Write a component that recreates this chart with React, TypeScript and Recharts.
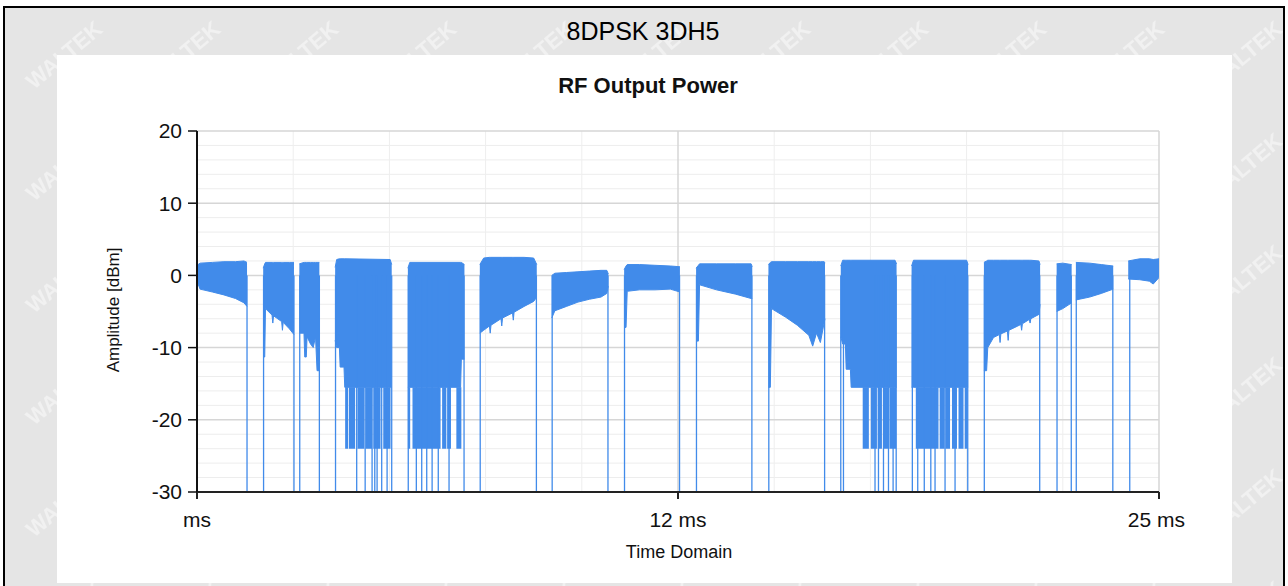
import React from "react"
import { ComposedChart, Area, Line, XAxis, YAxis, CartesianGrid, ReferenceLine } from "recharts"

const font = "'Liberation Sans', Arial, sans-serif"
const blue = "#418bea"

// burst envelopes: time in ms, amplitude in dBm
const burstTime = [
  [0, 0.08, 0.4, 0.7, 1.0, 1.22, 1.3],
  [1.72, 1.76, 1.78, 1.95, 1.97, 1.99, 2.2, 2.22, 2.24, 2.4, 2.52],
  [2.66, 2.78, 2.8, 2.84, 2.86, 2.95, 3.02, 3.08, 3.12, 3.18],
  [3.59, 3.63, 3.7, 3.72, 3.82, 3.84, 5.02, 5.06],
  [5.48, 5.53, 6.85, 6.87, 6.95],
  [7.35, 7.45, 7.6, 7.62, 7.64, 7.9, 7.92, 7.94, 8.2, 8.22, 8.24, 8.5, 8.75, 8.83],
  [9.22, 9.3, 9.6, 9.9, 10.2, 10.5, 10.65, 10.69],
  [11.1, 11.15, 11.18, 11.5, 11.9, 12.3, 12.55],
  [12.97, 13.03, 13.06, 13.5, 14.0, 14.4, 14.43],
  [14.85, 14.9, 14.93, 15.3, 15.6, 15.9, 16.0, 16.1, 16.2, 16.3, 16.32],
  [16.73, 16.78, 16.85, 16.87, 16.98, 17.0, 18.14, 18.18],
  [18.57, 18.62, 20.0, 20.04],
  [20.45, 20.52, 20.55, 20.7, 20.85, 20.87, 20.89, 21.06, 21.08, 21.1, 21.41, 21.43, 21.45, 21.63, 21.65, 21.67, 21.88, 21.91],
  [22.34, 22.5, 22.73],
  [22.84, 23.2, 23.5, 23.81],
  [24.2, 24.5, 24.75, 24.85, 25],
]
const burstLow = [
  [-0.8, -1.9, -2.3, -2.7, -3.2, -3.8, -4.3],
  [-11.3, -11.3, -4.6, -5.5, -6.6, -5.6, -6.4, -7.6, -6.5, -7.4, -8.2],
  [-8.0, -8.0, -11.3, -11.3, -8.5, -9.5, -10.0, -8.5, -13.2, -13.2],
  [-9.0, -10.0, -10.0, -12.7, -12.7, -15.5, -15.5, -15.5],
  [-15.5, -15.5, -15.5, -11.6, -11.6],
  [-8.0, -7.6, -7.0, -8.0, -6.9, -6.0, -7.0, -5.9, -5.2, -6.2, -5.1, -4.3, -3.6, -3.0],
  [-5.9, -4.9, -4.3, -3.7, -3.3, -3.0, -2.5, -1.5],
  [-7.2, -7.2, -2.2, -2.0, -2.0, -1.9, -2.3],
  [-9.1, -9.1, -1.3, -2.0, -2.6, -3.2, -3.2],
  [-15.5, -15.5, -4.6, -5.8, -6.9, -8.3, -9.8, -8.0, -9.3, -6.5, -6.0],
  [-8.5, -9.5, -9.5, -13.0, -13.0, -15.5, -15.5, -15.5],
  [-15.5, -15.5, -15.5, -15.5],
  [-13.2, -13.2, -10.0, -8.6, -8.2, -9.3, -8.1, -7.7, -9.0, -7.6, -6.8, -7.6, -6.7, -6.1, -6.6, -6.0, -5.4, -4.0],
  [-5.0, -4.6, -3.8],
  [-3.4, -3.0, -2.5, -1.9],
  [-0.5, -0.6, -0.8, -1.2, -0.3],
]
const burstHigh = [
  [1.4, 1.7, 1.8, 1.9, 1.9, 2.0, 1.8],
  [1.0, 1.6, 1.8, 1.8, 1.8, 1.8, 1.8, 1.8, 1.8, 1.8, 1.8],
  [1.6, 1.8, 1.8, 1.8, 1.8, 1.8, 1.8, 1.8, 1.8, 1.8],
  [1.1, 2.2, 2.3, 2.3, 2.3, 2.3, 2.2, 1.5],
  [1.0, 1.8, 1.8, 1.8, 1.5],
  [1.5, 2.4, 2.5, 2.5, 2.5, 2.5, 2.5, 2.5, 2.5, 2.5, 2.5, 2.5, 2.4, 1.5],
  [0.0, 0.3, 0.4, 0.5, 0.6, 0.7, 0.7, 0.2],
  [0.8, 1.3, 1.5, 1.5, 1.4, 1.3, 1.2],
  [1.0, 1.4, 1.6, 1.6, 1.6, 1.6, 1.2],
  [1.5, 1.8, 1.9, 1.9, 1.9, 1.9, 1.9, 1.9, 1.9, 1.9, 1.7],
  [1.3, 2.1, 2.1, 2.1, 2.1, 2.1, 2.1, 1.6],
  [1.3, 2.1, 2.1, 1.5],
  [1.8, 2.0, 2.1, 2.1, 2.1, 2.1, 2.1, 2.1, 2.1, 2.1, 2.1, 2.1, 2.1, 2.1, 2.1, 2.1, 2.0, 1.5],
  [1.6, 1.7, 1.5],
  [1.8, 1.7, 1.5, 1.3],
  [2.0, 2.3, 2.3, 2.2, 2.3],
]

// deep fill between -24 and -15.5 inside the noisy bursts
const deepStart = [3.85, 3.95, 4.17, 4.38, 4.58, 4.84, 5.48, 5.6, 6.37, 6.5, 6.74, 17.3, 17.51, 17.69, 17.84, 18.0, 18.68, 19.3, 19.45, 19.62, 19.79, 19.95]
const deepEnd = [3.93, 4.11, 4.35, 4.55, 4.77, 5.03, 5.54, 6.33, 6.48, 6.6, 6.87, 17.46, 17.67, 17.8, 17.99, 18.17, 19.27, 19.43, 19.57, 19.75, 19.92, 20.03]
const deepFloor = -24
const deepCeil = -15.5

// thin drops to the bottom of the scale
const spikeTime = [
  1.3, 1.73, 2.52, 2.67, 3.18, 3.6, 4.15, 4.37, 4.55, 4.62, 4.68, 4.8, 4.94, 5.06,
  5.49, 5.7, 5.84, 5.97, 6.11, 6.27, 6.55, 6.94, 7.36, 8.82, 9.23, 10.68, 11.11, 12.54,
  12.98, 14.42, 14.86, 16.31, 16.73, 16.8, 17.62, 17.71, 17.84, 17.97, 18.09, 18.17,
  18.59, 18.73, 18.9, 19.07, 19.18, 19.44, 19.7, 20.03, 20.46, 21.9, 22.35, 22.72,
  22.85, 23.8, 24.24,
]
const spikeTop = 0
const spikeBottom = -30

const yTicks = [-30, -20, -10, 0, 10, 20]
const yMinor = [-28, -26, -24, -22, -18, -16, -14, -12, -8, -6, -4, -2, 2, 4, 6, 8, 12, 14, 16, 18]
const xTicks = [0, 12.5, 25]
const xTickLabels = ["ms", "12 ms", "25 ms"]
const xMinor = [2.5, 5, 7.5, 10, 15, 17.5, 20, 22.5]

const bandRows = burstTime.flatMap((times, b) => [
  ...times.map((t, i) => ({ t, band: [burstLow[b][i], burstHigh[b][i]] })),
  { t: times[times.length - 1], band: null },
])

const deepRows = deepStart.flatMap((s, i) => [
  { t: s, deep: [deepFloor, deepCeil] },
  { t: deepEnd[i], deep: [deepFloor, deepCeil] },
  { t: deepEnd[i], deep: null },
])

const spikeRows = spikeTime.flatMap((t) => [
  { t, s: spikeTop },
  { t, s: spikeBottom },
  { t, s: null },
])

const chartMargin = { top: 131, right: 129, bottom: 34, left: 117 }

const XTick = (props: any) => {
  const { x, y, payload } = props
  const i = xTicks.indexOf(payload.value)
  const last = i === xTicks.length - 1
  return (
    <text
      x={last ? x + 26 : x}
      y={y}
      dy={26}
      textAnchor={last ? "end" : "middle"}
      fontSize={21}
      fontFamily={font}
      fill="#111"
    >
      {xTickLabels[i]}
    </text>
  )
}

// grid only, drawn in its own chart underneath the trace
function GridLayer() {
  return (
    <ComposedChart width={1288} height={586} margin={chartMargin} data={bandRows}>
      <XAxis dataKey="t" type="number" domain={[0, 25]} ticks={xTicks} allowDataOverflow height={60} tick={false} axisLine={false} tickLine={false} />
      <YAxis type="number" domain={[-30, 20]} ticks={yTicks} allowDataOverflow width={80} tick={false} axisLine={false} tickLine={false} />
      {yMinor.map((v) => (
        <ReferenceLine key={"y" + v} y={v} stroke="#ededed" strokeWidth={1} />
      ))}
      {xMinor.map((v) => (
        <ReferenceLine key={"x" + v} x={v} stroke="#eeeeee" strokeWidth={1} />
      ))}
      {yTicks.map((v) => (
        <ReferenceLine key={"Y" + v} y={v} stroke="#d6d6d6" strokeWidth={1.5} />
      ))}
      {xTicks.map((v) => (
        <ReferenceLine key={"X" + v} x={v} stroke="#d6d6d6" strokeWidth={1.5} />
      ))}
    </ComposedChart>
  )
}

export default function App() {
  return (
    <div style={{ position: "absolute", left: 0, top: 0, width: 1288, height: 586, background: "#fff", overflow: "hidden" }}>
      <svg width={1288} height={586} style={{ position: "absolute", left: 0, top: 0 }}>
        <defs>
          <pattern id="wm" width={118} height={112} patternUnits="userSpaceOnUse">
            <text
              x={18}
              y={66}
              transform="rotate(-40 59 56)"
              fontSize={22}
              fontWeight="bold"
              fontFamily={font}
              fill="#f1f1f1"
            >
              WALTEK
            </text>
          </pattern>
        </defs>
        <rect x={3} y={6} width={1282} height={580} fill="#e5e5e5" />
        <rect x={3} y={6} width={1282} height={580} fill="url(#wm)" />
        <rect x={57} y={55} width={1175} height={528} fill="#fff" />
        <rect x={3} y={6} width={1282} height={2} fill="#000" />
        <rect x={3} y={6} width={2} height={580} fill="#000" />
        <rect x={1283} y={6} width={2} height={580} fill="#000" />
      </svg>

      <div style={{ position: "absolute", left: 0, top: 0 }}>
        <GridLayer />
      </div>

      <div style={{ position: "absolute", left: 0, top: 0 }}>
        <ComposedChart width={1288} height={586} margin={chartMargin}>
          <XAxis
            dataKey="t"
            type="number"
            domain={[0, 25]}
            ticks={xTicks}
            allowDataOverflow
            height={60}
            tickSize={7}
            tick={<XTick />}
            axisLine={{ stroke: "#222", strokeWidth: 2 }}
            tickLine={{ stroke: "#222", strokeWidth: 2 }}
          />
          <YAxis
            type="number"
            domain={[-30, 20]}
            ticks={yTicks}
            allowDataOverflow
            width={80}
            tickSize={9}
            tickMargin={6}
            tick={{ fontSize: 21, fill: "#111", fontFamily: font }}
            axisLine={{ stroke: "#111", strokeWidth: 2 }}
            tickLine={{ stroke: "#111", strokeWidth: 1.5 }}
          />
          <Line
            data={spikeRows}
            dataKey="s"
            type="linear"
            stroke={blue}
            strokeWidth={1.3}
            dot={false}
            activeDot={false}
            connectNulls={false}
            isAnimationActive={false}
          />
          <Area
            data={deepRows}
            dataKey="deep"
            type="linear"
            stroke="none"
            fill={blue}
            fillOpacity={1}
            connectNulls={false}
            isAnimationActive={false}
          />
          <Area
            data={bandRows}
            dataKey="band"
            type="linear"
            stroke={blue}
            strokeWidth={1}
            fill={blue}
            fillOpacity={1}
            connectNulls={false}
            isAnimationActive={false}
          />
        </ComposedChart>
      </div>

      <svg width={1288} height={586} style={{ position: "absolute", left: 0, top: 0, pointerEvents: "none" }}>
        <text x={643} y={40} textAnchor="middle" fontSize={25} fontFamily={font} fill="#000">
          8DPSK 3DH5
        </text>
        <text x={648} y={93} textAnchor="middle" fontSize={22} fontWeight="bold" fontFamily={font} fill="#111">
          RF Output Power
        </text>
        <text
          transform="translate(119 310) rotate(-90)"
          textAnchor="middle"
          fontSize={17}
          fontFamily={font}
          fill="#111"
        >
          Amplitude [dBm]
        </text>
        <text x={679} y={558} textAnchor="middle" fontSize={18} fontFamily={font} fill="#111">
          Time Domain
        </text>
      </svg>
    </div>
  )
}
